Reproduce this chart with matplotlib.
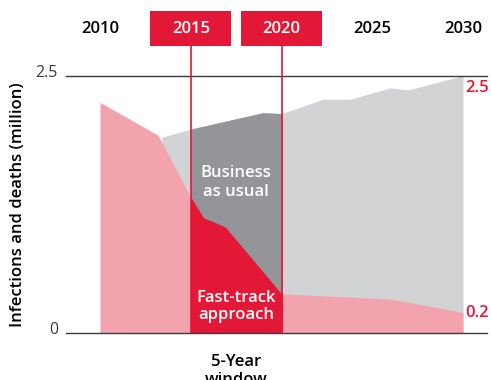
import matplotlib.pyplot as plt
from matplotlib.patches import Rectangle

plt.rcParams['font.family'] = ['Open Sans', 'DejaVu Sans']

# fast-track approach (million)
fast_years = [2010, 2013.2, 2015, 2015.7, 2016.9, 2020, 2026, 2030]
fast_vals = [2.24, 1.92, 1.32, 1.12, 1.03, 0.38, 0.33, 0.2]

# business as usual (million)
bau_years = [2013.4, 2015, 2019, 2020, 2022.3, 2023.8, 2026, 2027, 2030]
bau_vals = [1.90, 1.98, 2.14, 2.13, 2.27, 2.27, 2.38, 2.36, 2.5]

label_years = [2010, 2015, 2020, 2025, 2030]
window = (2015, 2020)
y_ticks = [0, 2.5]

RED = '#e31837'
PINK = '#f2a3ae'
LIGHT = '#d1d3d4'
DARK = '#939598'
INK = '#3c3c3c'
W = 'semibold'
FS = 12

fig = plt.figure(figsize=(4.91, 3.8), dpi=100)
ax = fig.add_axes([0, 0, 1, 1])
px_x = 18.15   # pixels per year
px_y = 103.0   # pixels per million
x0 = 2010 - 100 / px_x
y0 = -47 / px_y
ax.set_xlim(x0, x0 + 491 / px_x)
ax.set_ylim(y0, y0 + 380 / px_y)
ax.axis('off')

# base areas
ax.fill_between(bau_years, 0, bau_vals, color=LIGHT, lw=0, zorder=1)
ax.fill_between(fast_years, 0, fast_vals, color=PINK, lw=0, zorder=2)

# highlighted 5-year window
clip = Rectangle((window[0], -1), window[1] - window[0], 5, transform=ax.transData)
dark = ax.fill_between(bau_years, 0, bau_vals, color=DARK, lw=0, zorder=3)
dark.set_clip_path(clip)
red = ax.fill_between(fast_years, 0, fast_vals, color=RED, lw=0, zorder=4)
red.set_clip_path(clip)

# horizontal guides
for v in y_ticks:
    ax.axhline(v, xmin=66 / 491, xmax=487 / 491, color=INK, lw=1.0, zorder=5)
    ax.text(x0 + 58 / px_x, v - 0.01, f'{v:g}', ha='right', va='baseline',
            fontsize=11.5, fontweight='medium', color=INK)

# year header
box_w = 81 / px_x
box_bottom = 2.785
box_h = 0.337
for yr in label_years:
    if yr in window:
        ax.add_patch(Rectangle((yr - box_w / 2, box_bottom), box_w, box_h,
                               color=RED, lw=0, zorder=6))
        ax.vlines(yr, 0, box_bottom, color=RED, lw=1.2, zorder=6)
        col = 'white'
    else:
        col = 'black'
    ax.text(yr, box_bottom + box_h / 2, str(yr), ha='center', va='center',
            fontsize=FS, fontweight=W, color=col, zorder=7)

# end values
ax.text(fast_years[-1] + 2 / px_x, bau_vals[-1] - 0.04, f'{bau_vals[-1]:g}',
        ha='left', va='top', fontsize=FS, fontweight=W, color=RED)
ax.text(fast_years[-1] + 2 / px_x, fast_vals[-1] - 0.01, f'{fast_vals[-1]:g}',
        ha='left', va='center', fontsize=FS, fontweight=W, color=RED)

mid = sum(window) / 2
ax.text(mid, 1.46, 'Business\nas usual', ha='center', va='center', fontsize=FS,
        fontweight=W, color='white', linespacing=1.25, zorder=8)
ax.text(mid, 0.26, 'Fast-track\napproach', ha='center', va='center', fontsize=FS,
        fontweight=W, color='white', linespacing=1.1, zorder=8)
ax.text(mid, -0.20, '5-Year\nwindow', ha='center', va='top', fontsize=FS,
        fontweight=W, color='black', linespacing=1.2)

fig.text(18 / 491, 175.5 / 380, 'Infections and deaths (million)', rotation=90,
         ha='center', va='center', fontsize=FS, fontweight=W, color='black')

fig.savefig('out.png', dpi=100)
